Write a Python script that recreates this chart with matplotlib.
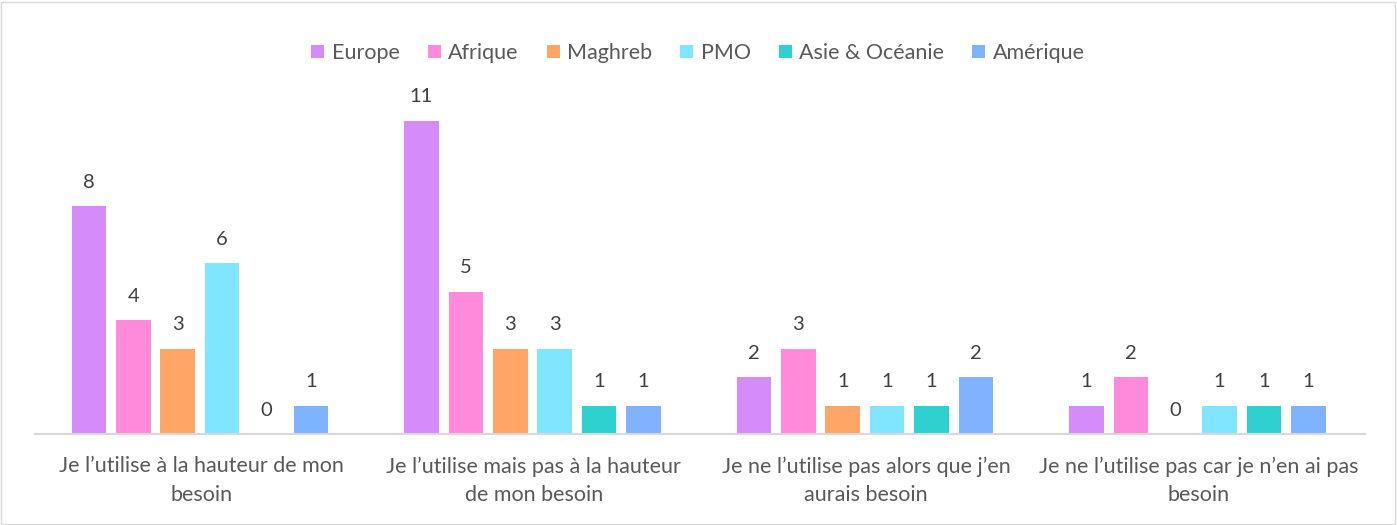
import matplotlib
matplotlib.use("Agg")
import matplotlib.pyplot as plt
from matplotlib.patches import Rectangle
import numpy as np

plt.rcParams['font.family'] = ['Lato', 'DejaVu Sans']

categories = [
    "Je l\u2019utilise à la hauteur de mon\nbesoin",
    "Je l\u2019utilise mais pas à la hauteur\nde mon besoin",
    "Je ne l\u2019utilise pas alors que j\u2019en\naurais besoin",
    "Je ne l\u2019utilise pas car je n\u2019en ai pas\nbesoin",
]
series_names = ["Europe", "Afrique", "Maghreb", "PMO", "Asie & Océanie", "Amérique"]
europe = [8, 11, 2, 1]
afrique = [4, 5, 3, 2]
maghreb = [3, 3, 1, 0]
pmo = [6, 3, 1, 1]
asie_oceanie = [0, 1, 1, 1]
amerique = [1, 1, 2, 1]
series_values = [europe, afrique, maghreb, pmo, asie_oceanie, amerique]
colors = ["#D58CFA", "#FF8ADC", "#FFA566", "#80E6FF", "#2ED0D0", "#7FB2FF"]

W, H = 1397, 525
fig = plt.figure(figsize=(W / 100, H / 100), dpi=100)
ax = fig.add_axes([35 / W, 1 - 434 / H, 1330 / W, 342 / H])

x = np.arange(len(categories))
pitch = 0.1335
width = 0.104
n = len(series_names)
handles = []
for i, (name, vals, c) in enumerate(zip(series_names, series_values, colors)):
    pos = x + (i - (n - 1) / 2) * pitch - 0.004
    b = ax.bar(pos, vals, width=width, color=c, label=name, zorder=2)
    handles.append(b)
    for px, v in zip(pos, vals):
        ax.annotate(str(v), (px, v), xytext=(0, 17), textcoords="offset points",
                    ha="center", va="center", fontsize=14.5, color="#404040")

ax.set_xlim(-0.5, 3.5)
ax.set_ylim(0, 12)
for s in ["top", "right", "left"]:
    ax.spines[s].set_visible(False)
ax.spines["bottom"].set_color("#D9D9D9")
ax.spines["bottom"].set_linewidth(1.5)
ax.set_yticks([])
ax.set_xticks(x)
ax.set_xticklabels(categories, fontsize=15.5, color="#595959", linespacing=1.55)
ax.tick_params(axis="x", length=0, pad=16)

leg = fig.legend(handles=handles, labels=series_names, loc="center",
                 bbox_to_anchor=(698 / W, 1 - 53 / H), ncol=6, frameon=False,
                 fontsize=15.5, handlelength=0.6, handleheight=0.6,
                 handletextpad=0.35, columnspacing=1.3)
for t in leg.get_texts():
    t.set_color("#595959")

fig.patches.append(Rectangle((1 / W, 1 / H), (W - 3) / W, (H - 3) / H,
                             transform=fig.transFigure, fill=False,
                             edgecolor="#D9D9D9", linewidth=1))

fig.savefig("out.png", dpi=100, facecolor="white")
